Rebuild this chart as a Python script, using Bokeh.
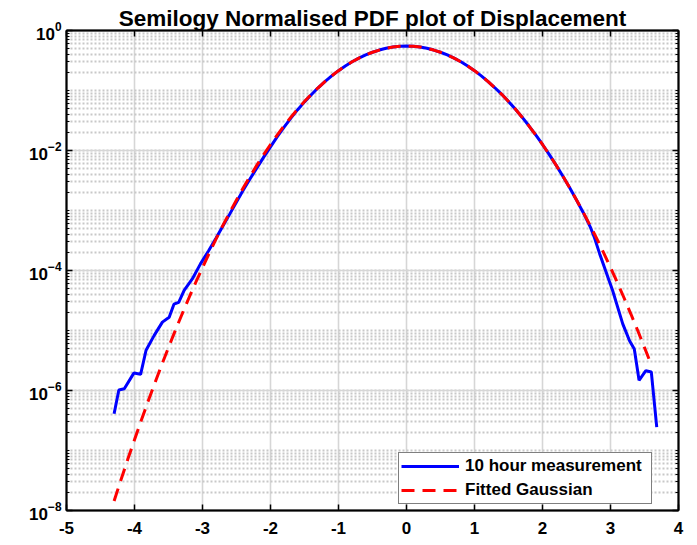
from bokeh.plotting import figure
from bokeh.models import (FixedTicker, LogAxis, LinearAxis, Legend, LegendItem,
                          CustomJSTickFormatter, Range1d)
from bokeh.embed import file_html
from bokeh.resources import INLINE

TITLE = "Semilogy Normalised PDF plot of Displacement"
LABEL_MEAS = "10 hour measurement"
LABEL_FIT = "Fitted Gaussian"

x_ticks = [-5, -4, -3, -2, -1, 0, 1, 2, 3, 4]
x_tick_labels = ["-5", "-4", "-3", "-2", "-1", "0", "1", "2", "3", "4"]
y_major = [1e-8, 1e-6, 1e-4, 1e-2, 1e0]

# measured PDF (10 hour measurement)
x_meas = [-4.30, -4.23, -4.15, -4.01, -3.91, -3.83, -3.71, -3.59, -3.49, -3.42,
          -3.35, -3.27, -3.15, -3.03, -2.91, -2.80,
          -2.70, -2.60, -2.50, -2.40, -2.30, -2.20, -2.10, -2.00, -1.90, -1.80,
          -1.70, -1.60, -1.50, -1.40, -1.30, -1.20, -1.10, -1.00, -0.90, -0.80,
          -0.70, -0.60, -0.50, -0.40, -0.30, -0.20, -0.10, 0.00,
          0.10, 0.20, 0.30, 0.40, 0.50, 0.60, 0.70, 0.80, 0.90, 1.00,
          1.10, 1.20, 1.30, 1.40, 1.50, 1.60, 1.70, 1.80, 1.90, 2.00,
          2.10, 2.20, 2.30, 2.40, 2.50, 2.60, 2.70,
          2.76, 2.84, 2.98, 3.03, 3.18, 3.28, 3.35, 3.42, 3.52, 3.60, 3.68]
y_meas = [4.1e-7, 1.02e-6, 1.07e-6, 1.95e-6, 1.86e-6, 4.68e-6, 8.3e-6, 1.38e-5, 1.66e-5, 2.75e-5,
          2.95e-5, 4.68e-5, 7.24e-5, 1.29e-4, 2.14e-4, 3.47e-4,
          5.5e-4, 8.7e-4, 1.38e-3, 2.19e-3, 3.39e-3, 5.13e-3, 7.76e-3, 1.15e-2, 1.70e-2, 2.45e-2,
          3.47e-2, 4.79e-2, 6.46e-2, 8.51e-2, 0.111, 0.141, 0.175, 0.214, 0.256, 0.301,
          0.346, 0.391, 0.434, 0.472, 0.505, 0.530, 0.545, 0.552,
          0.545, 0.530, 0.505, 0.472, 0.434, 0.391, 0.346, 0.301, 0.256, 0.214,
          0.175, 0.141, 0.111, 8.63e-2, 6.56e-2, 4.90e-2, 3.59e-2, 2.58e-2, 1.82e-2, 1.26e-2,
          8.55e-3, 5.70e-3, 3.72e-3, 2.39e-3, 1.50e-3, 9.2e-4, 5.4e-4,
          3.63e-4, 1.91e-4, 6.76e-5, 4.68e-5, 1.29e-5, 6.76e-6, 4.9e-6, 1.48e-6, 2.14e-6, 2.04e-6, 2.45e-7]

# fitted Gaussian
x_fit = [-4.3, -4.2, -4.1, -4.0, -3.9, -3.8, -3.7, -3.6, -3.5, -3.4,
         -3.3, -3.2, -3.1, -3.0, -2.9, -2.8, -2.7, -2.6, -2.5, -2.4,
         -2.3, -2.2, -2.1, -2.0, -1.9, -1.8, -1.7, -1.6, -1.5, -1.4,
         -1.3, -1.2, -1.1, -1.0, -0.9, -0.8, -0.7, -0.6, -0.5, -0.4,
         -0.3, -0.2, -0.1, 0.0,
         0.1, 0.2, 0.3, 0.4, 0.5, 0.6, 0.7, 0.8, 0.9, 1.0,
         1.1, 1.2, 1.3, 1.4, 1.5, 1.6, 1.7, 1.8, 1.9, 2.0,
         2.1, 2.2, 2.3, 2.4, 2.5, 2.6, 2.7, 2.8, 2.9, 3.0,
         3.1, 3.2, 3.3, 3.4, 3.5, 3.6]
y_fit = [1.44e-8, 3.22e-8, 7.05e-8, 1.51e-7, 3.19e-7, 6.61e-7, 1.34e-6, 2.67e-6, 5.21e-6, 1.00e-5,
         1.88e-5, 3.48e-5, 6.31e-5, 1.12e-4, 1.96e-4, 3.36e-4, 5.64e-4, 9.29e-4, 1.50e-3, 2.39e-3,
         3.72e-3, 5.70e-3, 8.55e-3, 1.26e-2, 1.82e-2, 2.58e-2, 3.59e-2, 4.90e-2, 6.56e-2, 8.63e-2,
         0.111, 0.141, 0.175, 0.214, 0.256, 0.301, 0.346, 0.391, 0.434, 0.472,
         0.505, 0.530, 0.545, 0.550,
         0.545, 0.530, 0.505, 0.472, 0.434, 0.391, 0.346, 0.301, 0.256, 0.214,
         0.175, 0.141, 0.111, 8.63e-2, 6.56e-2, 4.90e-2, 3.59e-2, 2.58e-2, 1.82e-2, 1.26e-2,
         8.55e-3, 5.70e-3, 3.72e-3, 2.39e-3, 1.50e-3, 9.29e-4, 5.64e-4, 3.36e-4, 1.96e-4, 1.12e-4,
         6.31e-5, 3.48e-5, 1.88e-5, 1.00e-5, 5.21e-6, 2.67e-6]

FONT = "Liberation Sans"

y_minor = [k * 10.0 ** n for n in range(-8, 0) for k in range(1, 10)]

p = figure(frame_width=612, frame_height=480, y_axis_type="log",
           x_range=Range1d(-5, 4), y_range=Range1d(1e-8, 1),
           output_backend="svg", toolbar_location=None,
           min_border_left=66, min_border_right=12, min_border_top=30, min_border_bottom=34,
           title=TITLE)
p.background_fill_color = "white"
p.border_fill_color = "white"
p.outline_line_color = "black"
p.outline_line_width = 1.5

p.title.text_font = FONT
p.title.text_font_size = "22.5px"
p.title.text_font_style = "bold"
p.title.text_color = "black"
p.title.align = "center"
p.title.standoff = 0
p.title.offset = 0

xa = p.below[0]
ya = p.left[0]
xa.ticker = FixedTicker(ticks=x_ticks, minor_ticks=[])
xa.major_label_overrides = dict(zip(x_ticks, x_tick_labels))
ya.ticker = FixedTicker(ticks=y_major, minor_ticks=y_minor)

# right and top axes (ticks only)
ra = LogAxis(ticker=FixedTicker(ticks=y_major, minor_ticks=y_minor),
             formatter=CustomJSTickFormatter(code="return ''"))
ta = LinearAxis(ticker=FixedTicker(ticks=x_ticks, minor_ticks=[]),
                formatter=CustomJSTickFormatter(code="return ''"))
p.add_layout(ra, "right")
p.add_layout(ta, "above")

for ax in [xa, ya, ra, ta]:
    ax.axis_line_color = "black"
    ax.axis_line_width = 2
    ax.major_tick_line_color = "black"
    ax.major_tick_line_width = 1.5
    ax.minor_tick_line_color = "black"
    ax.minor_tick_line_width = 1
    ax.major_tick_in = 6
    ax.major_tick_out = 0
    ax.minor_tick_in = 3
    ax.minor_tick_out = 0
    ax.major_label_text_font = FONT
    ax.major_label_text_font_size = "17px"
    ax.major_label_text_font_style = "bold"
    ax.major_label_text_color = "black"
for ax in [ra, ta]:
    ax.major_label_standoff = 0
    ax.major_label_text_font_size = "1px"
xa.major_label_standoff = 11
ya.major_label_standoff = 5

p.xgrid.grid_line_color = "#d6d6d6"
p.xgrid.grid_line_width = 1.6
p.ygrid.grid_line_color = "#d6d6d6"
p.ygrid.grid_line_width = 1.6
p.ygrid.minor_grid_line_color = "#c8c8c8"
p.ygrid.minor_grid_line_width = 1.8
p.ygrid.minor_grid_line_dash = "2 2"

r1 = p.line(x_meas, y_meas, line_color="#0000ff", line_width=3)
r2 = p.line(x_fit, y_fit, line_color="#ff0000", line_width=3, line_dash="13 8")

legend = Legend(items=[LegendItem(label=LABEL_MEAS, renderers=[r1]),
                       LegendItem(label=LABEL_FIT, renderers=[r2])],
                location=(332, 6))
legend.border_line_color = "black"
legend.border_line_width = 1.5
legend.background_fill_color = "white"
legend.background_fill_alpha = 1.0
legend.label_text_font = FONT
legend.label_text_font_size = "17px"
legend.label_text_font_style = "bold"
legend.label_text_color = "black"
legend.glyph_width = 58
legend.label_standoff = 6
legend.label_height = 22
legend.glyph_height = 22
legend.label_width = 184
legend.padding = 2
legend.spacing = 2
legend.margin = 0
p.add_layout(legend)

open("out.html", "w").write(file_html(p, INLINE))
